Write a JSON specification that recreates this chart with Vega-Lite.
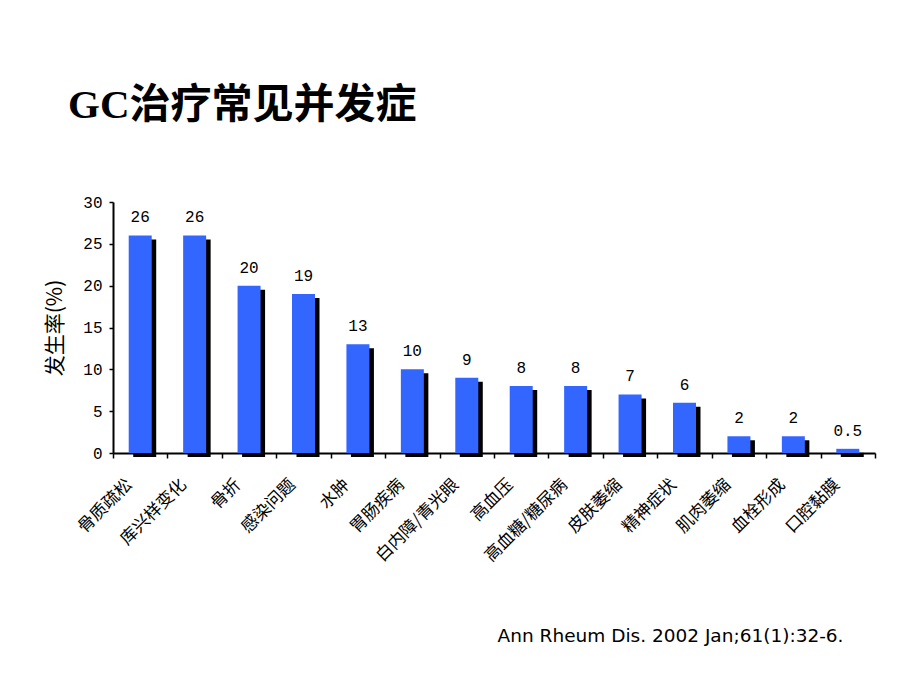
{
  "$schema": "https://vega.github.io/schema/vega-lite/v6.json",
  "width": 762,
  "height": 251,
  "autosize": {"type": "none"},
  "padding": {"left": 113, "top": 202, "right": 45, "bottom": 237},
  "background": "white",
  "title": {
    "text": "GC治疗常见并发症",
    "font": "Liberation Serif, Noto Sans CJK SC",
    "fontSize": 41,
    "fontWeight": "bold",
    "color": "black",
    "anchor": "start",
    "frame": "group",
    "dx": -45,
    "offset": 67
  },
  "data": {
    "values": [
      {"c": "骨质疏松", "v": 26, "t": "26"},
      {"c": "库兴样变化", "v": 26, "t": "26"},
      {"c": "骨折", "v": 20, "t": "20"},
      {"c": "感染问题", "v": 19, "t": "19"},
      {"c": "水肿", "v": 13, "t": "13"},
      {"c": "胃肠疾病", "v": 10, "t": "10"},
      {"c": "白内障/青光眼", "v": 9, "t": "9"},
      {"c": "高血压", "v": 8, "t": "8"},
      {"c": "高血糖/糖尿病", "v": 8, "t": "8"},
      {"c": "皮肤萎缩", "v": 7, "t": "7"},
      {"c": "精神症状", "v": 6, "t": "6"},
      {"c": "肌肉萎缩", "v": 2, "t": "2"},
      {"c": "血栓形成", "v": 2, "t": "2"},
      {"c": "口腔黏膜", "v": 0.5, "t": "0.5"}
    ]
  },
  "encoding": {
    "x": {
      "field": "c",
      "type": "nominal",
      "sort": null,
      "scale": {"paddingInner": 0, "paddingOuter": 0},
      "axis": {
        "labelAngle": -45,
        "labelFont": "Noto Sans CJK SC",
        "labelFontSize": 17,
        "labelColor": "black",
        "labelPadding": 18,
        "labelOffset": -17,
        "tickBand": "extent",
        "tickSize": 5,
        "tickColor": "black",
        "tickWidth": 1.5,
        "domainColor": "black",
        "domainWidth": 2,
        "title": "Ann Rheum Dis. 2002 Jan;61(1):32-6.",
        "titleFont": "DejaVu Sans",
        "titleFontSize": 18.5,
        "titleFontWeight": "normal",
        "titleColor": "black",
        "titleX": 730,
        "titleY": 188,
        "titleAlign": "right",
        "titleBaseline": "alphabetic"
      }
    },
    "y": {
      "field": "v",
      "type": "quantitative",
      "scale": {"domain": [0, 30]},
      "axis": {
        "values": [0, 5, 10, 15, 20, 25, 30],
        "grid": false,
        "labelFont": "Liberation Mono",
        "labelFontSize": 16,
        "labelColor": "black",
        "labelPadding": 7,
        "tickSize": 4,
        "tickColor": "black",
        "tickWidth": 1.5,
        "domainColor": "black",
        "domainWidth": 2,
        "title": "发生率(%)",
        "titleFont": "Noto Sans CJK SC",
        "titleFontSize": 21,
        "titleFontWeight": "normal",
        "titleColor": "black",
        "titlePadding": 17
      }
    }
  },
  "layer": [
    {"mark": {"type": "bar", "color": "black", "size": 23, "xOffset": 4.5, "yOffset": 4, "y2Offset": -4}},
    {"mark": {"type": "bar", "color": "#3366FF", "size": 23}},
    {
      "mark": {"type": "text", "baseline": "bottom", "dy": -10, "font": "Liberation Mono", "fontSize": 16, "color": "black"},
      "encoding": {"text": {"field": "t"}}
    }
  ],
  "config": {"view": {"stroke": null}}
}
